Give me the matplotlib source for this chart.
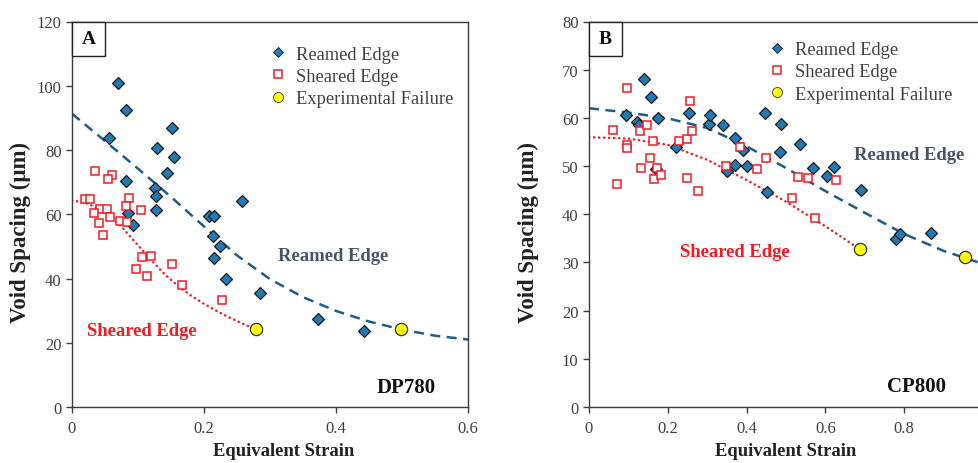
import matplotlib
matplotlib.use("Agg")
import matplotlib.pyplot as plt
from matplotlib.lines import Line2D
from matplotlib.patches import Rectangle

plt.rcParams['font.family'] = ['Liberation Serif', 'DejaVu Serif']

# ---- DP780 ----
dp_ream_x = [0.069, 0.082, 0.056, 0.152, 0.129, 0.155, 0.144, 0.082, 0.126, 0.127, 0.128, 0.085,
             0.092, 0.208, 0.215, 0.258, 0.214, 0.225, 0.215, 0.234, 0.285, 0.372, 0.443]
dp_ream_y = [100.8, 92.3, 83.8, 87.0, 80.6, 77.8, 72.9, 70.5, 68.2, 65.6, 61.2, 60.4,
             56.8, 59.3, 59.6, 64.1, 53.2, 50.2, 46.4, 39.8, 35.4, 27.3, 23.6]
dp_shear_x = [0.035, 0.061, 0.055, 0.019, 0.027, 0.086, 0.082, 0.042, 0.053, 0.033, 0.104, 0.057,
              0.073, 0.084, 0.041, 0.047, 0.106, 0.119, 0.097, 0.114, 0.151, 0.167, 0.227]
dp_shear_y = [73.4, 72.2, 70.9, 64.8, 64.8, 65.2, 62.6, 61.6, 61.6, 60.5, 61.2, 59.0,
              57.9, 57.5, 57.2, 53.6, 46.8, 47.1, 43.0, 40.9, 44.6, 38.1, 33.3]
dp_fail_x = [0.279, 0.498]
dp_fail_y = [24.2, 24.2]
dp_ream_fit_x = [0, 0.05, 0.1, 0.15, 0.2, 0.25, 0.3, 0.35, 0.4, 0.45, 0.5, 0.55, 0.6]
dp_ream_fit_y = [91.3, 82.8, 74.2, 65.4, 56.2, 47.2, 39.8, 34.2, 29.9, 26.6, 24.1, 22.2, 21.0]
dp_shear_fit_x = [0, 0.02, 0.04, 0.06, 0.08, 0.1, 0.12, 0.14, 0.16, 0.18, 0.2, 0.22, 0.24, 0.26, 0.28, 0.292]
dp_shear_fit_y = [64.3, 63.6, 61.8, 59.2, 55.0, 50.3, 45.7, 41.4, 37.8, 34.7, 32.1, 29.8, 27.7, 25.8, 24.0, 23.0]

# ---- CP800 ----
cp_ream_x = [0.093, 0.121, 0.128, 0.140, 0.157, 0.175, 0.170, 0.221, 0.255, 0.304, 0.307, 0.339,
             0.349, 0.371, 0.371, 0.392, 0.401, 0.446, 0.451, 0.485, 0.487, 0.536, 0.569, 0.605,
             0.623, 0.691, 0.778, 0.789, 0.868]
cp_ream_y = [60.5, 59.1, 58.6, 68.0, 64.3, 59.9, 49.4, 54.0, 61.1, 58.8, 60.5, 58.6,
             48.9, 55.9, 50.2, 53.4, 50.0, 61.1, 44.6, 52.9, 58.8, 54.6, 49.7, 48.0,
             49.8, 45.1, 34.9, 35.9, 36.2]
cp_shear_x = [0.060, 0.070, 0.096, 0.096, 0.097, 0.129, 0.133, 0.146, 0.155, 0.162, 0.165, 0.173,
              0.183, 0.228, 0.248, 0.248, 0.257, 0.261, 0.277, 0.347, 0.383, 0.426, 0.449, 0.516,
              0.531, 0.557, 0.574, 0.626]
cp_shear_y = [57.5, 46.2, 54.4, 53.7, 66.3, 57.3, 49.7, 58.6, 51.6, 55.1, 47.3, 49.7,
              48.1, 55.2, 55.7, 47.5, 63.5, 57.2, 44.8, 50.1, 53.9, 49.4, 51.6, 43.3,
              47.7, 47.5, 39.2, 47.2]
cp_fail_x = [0.689, 0.954]
cp_fail_y = [32.8, 31.2]
cp_ream_fit_x = [0, 0.1, 0.2, 0.3, 0.4, 0.5, 0.6, 0.7, 0.8, 0.9, 1.0]
cp_ream_fit_y = [62.0, 61.1, 59.9, 57.9, 54.1, 49.6, 44.8, 40.3, 35.9, 32.4, 29.7]
cp_shear_fit_x = [0, 0.1, 0.2, 0.3, 0.4, 0.5, 0.6, 0.69]
cp_shear_fit_y = [56.0, 55.7, 54.4, 51.3, 47.1, 42.6, 37.5, 32.6]

dp_xticks = [0, 0.2, 0.4, 0.6]
dp_xtick_labels = ['0', '0.2', '0.4', '0.6']
dp_yticks = [0, 20, 40, 60, 80, 100, 120]
cp_xticks = [0, 0.2, 0.4, 0.6, 0.8, 1.0]
cp_xtick_labels = ['0', '0.2', '0.4', '0.6', '0.8', '']
cp_yticks = [0, 10, 20, 30, 40, 50, 60, 70, 80]
legend_labels = ["Reamed Edge", "Sheared Edge", "Experimental Failure"]

BLUE = '#1F7AB5'
LINE_BLUE = '#1B5C8C'
RED = '#EE1C24'
YEL = '#FFFF00'
TXT = '#404040'
SPINE = '#3c3c3c'

W, H = 979, 464
fig = plt.figure(figsize=(W / 100, H / 100), dpi=100)


def px_axes(l, r, t, b):
    return fig.add_axes([l / W, 1 - b / H, (r - l) / W, (b - t) / H])


ax1 = px_axes(72, 468, 22.5, 408)
ax2 = px_axes(589, 983, 22.5, 408)


def style(ax, xlim, ylim, xt, yt, xt_lab):
    ax.set_xlim(*xlim)
    ax.set_ylim(*ylim)
    ax.set_xticks(xt)
    ax.set_xticklabels(xt_lab)
    ax.set_yticks(yt)
    ax.tick_params(direction='out', length=4.5, width=1, color=SPINE,
                   labelsize=12, labelcolor=TXT)
    ax.tick_params(axis='x', pad=5)
    ax.tick_params(axis='y', pad=3)
    for s in ax.spines.values():
        s.set_color(SPINE)
        s.set_linewidth(1.0)


def draw(ax, rx, ry, sx, sy, fx, fy, rfx, rfy, sfx, sfy):
    ax.plot(rfx, rfy, color=LINE_BLUE, lw=1.8, linestyle=(0, (4, 2.6)), zorder=2)
    ax.plot(sfx, sfy, color=RED, lw=1.8, linestyle=(0, (0.1, 1.9)),
            dash_capstyle='round', zorder=2)
    ax.plot(rx, ry, 'D', ms=6.2, mfc=BLUE, mec='#1a1a1a', mew=0.9, ls='none', zorder=3)
    ax.plot(sx, sy, 's', ms=5.8, mfc='white', mec=RED, mew=1.1, ls='none', zorder=3)
    ax.plot(fx, fy, 'o', ms=8.8, mfc=YEL, mec='#333333', mew=0.9, ls='none', zorder=4)


def legend(ax, anchor):
    handles = [
        Line2D([], [], marker='D', ms=5, mfc=BLUE, mec='#1a1a1a', mew=0.6, ls='none'),
        Line2D([], [], marker='s', ms=5.6, mfc='white', mec=RED, mew=1.1, ls='none'),
        Line2D([], [], marker='o', ms=7.2, mfc=YEL, mec='#333333', mew=0.6, ls='none'),
    ]
    ax.legend(handles, legend_labels, loc='upper left', bbox_to_anchor=anchor,
              frameon=False, fontsize=13.3, handlelength=1.0, handletextpad=0.45,
              labelspacing=0.28, borderpad=0, borderaxespad=0, labelcolor=TXT)


def panel_tag(ax, letter, wpx, hpx, axw, axh):
    ax.add_patch(Rectangle((0, 1 - hpx / axh), wpx / axw, hpx / axh, transform=ax.transAxes,
                           facecolor='white', edgecolor='#222222', lw=1.0, zorder=5,
                           clip_on=False))
    ax.text(wpx / axw / 2, 1 - hpx / axh / 2, letter, transform=ax.transAxes,
            ha='center', va='center', fontsize=14, fontweight='bold', color='#111111', zorder=6)


def labels(ax, xlab_x, ylab_x):
    ax.set_xlabel('Equivalent Strain', fontsize=13.4, fontweight='bold', color='#222222')
    ax.set_ylabel('Void Spacing (μm)', fontsize=16.5, fontweight='bold', color='#222222')
    ax.xaxis.set_label_coords(xlab_x, -0.114)
    ax.yaxis.set_label_coords(ylab_x, 0.456)
    ax.xaxis.label.set_va('center')
    ax.yaxis.label.set_va('center')


# DP780 panel
style(ax1, (0, 0.6), (0, 120), dp_xticks, dp_yticks, dp_xtick_labels)
draw(ax1, dp_ream_x, dp_ream_y, dp_shear_x, dp_shear_y, dp_fail_x, dp_fail_y,
     dp_ream_fit_x, dp_ream_fit_y, dp_shear_fit_x, dp_shear_fit_y)
legend(ax1, (0.4975, 0.937))
panel_tag(ax1, 'A', 33, 34, 396, 385.5)
ax1.text(0.312, 47.3, 'Reamed Edge', color='#44546A', fontsize=13.4, fontweight='bold',
         ha='left', va='center')
ax1.text(0.0223, 23.7, 'Sheared Edge', color=RED, fontsize=13.4, fontweight='bold',
         ha='left', va='center')
ax1.text(0.4617, 6.2, 'DP780', color='#111111', fontsize=15, fontweight='bold',
         ha='left', va='center')
labels(ax1, 0.535, -0.131)

# CP800 panel
style(ax2, (0, 1.0), (0, 80), cp_xticks, cp_yticks, cp_xtick_labels)
draw(ax2, cp_ream_x, cp_ream_y, cp_shear_x, cp_shear_y, cp_fail_x, cp_fail_y,
     cp_ream_fit_x, cp_ream_fit_y, cp_shear_fit_x, cp_shear_fit_y)
legend(ax2, (0.4537, 0.949))
panel_tag(ax2, 'B', 33, 34, 394, 385.5)
ax2.text(0.6726, 52.3, 'Reamed Edge', color='#44546A', fontsize=13.4, fontweight='bold',
         ha='left', va='center')
ax2.text(0.231, 32.2, 'Sheared Edge', color=RED, fontsize=13.4, fontweight='bold',
         ha='left', va='center')
ax2.text(0.7556, 4.3, 'CP800', color='#111111', fontsize=15, fontweight='bold',
         ha='left', va='center')
labels(ax2, 0.499, -0.155)

fig.savefig('out.png', dpi=100)
